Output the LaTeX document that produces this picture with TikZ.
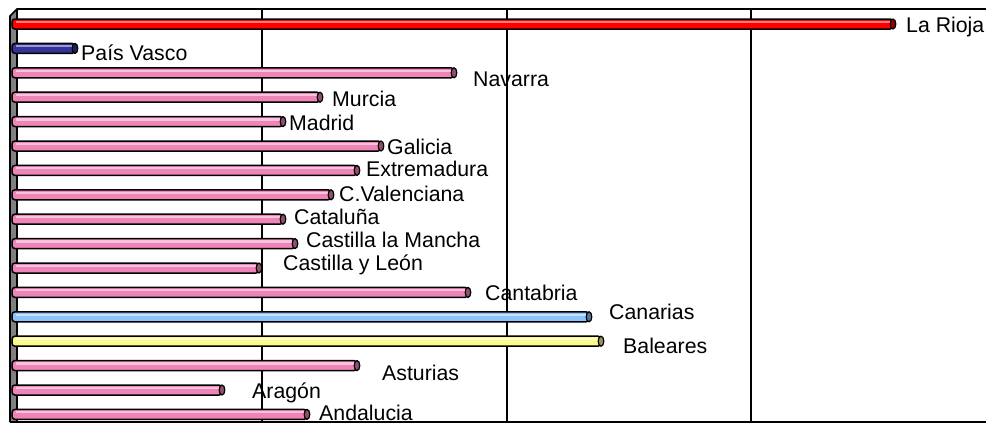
\documentclass[tikz,border=0pt]{standalone}
\usepackage{fontspec}
\setmainfont{Liberation Sans}
\definecolor{barpink}{RGB}{238,132,184}
\definecolor{barred}{RGB}{255,0,0}
\definecolor{barnavy}{RGB}{51,51,153}
\definecolor{barsky}{RGB}{140,196,250}
\definecolor{barcream}{RGB}{250,250,140}
\definecolor{wallgray}{RGB}{128,128,128}
\tikzset{
  >=latex,
}
\tikzstyle{grid}=[line width=1.6pt,black]
\tikzstyle{bar}=[line width=1.5pt,draw=black,rounded corners=3pt]
\tikzstyle{every node}=[font=\fontsize{21.3}{24}\selectfont,inner sep=0pt]

\begin{document}
\begin{tikzpicture}[x=1pt,y=-1pt]
    \useasboundingbox (0,0) rectangle (986,423);
    % wall and frame
    \fill[wallgray] (10,16) -- (17,9) -- (17,422) -- (10,422) -- cycle;
    \draw[grid] (10,422) -- (10,16) -- (17,9) -- (986,9);
    \draw[grid] (17,9) -- (17,422);
    \draw[grid] (10,422) -- (986,422);
    \foreach \x in {262,507,751} \draw[grid] (\x,9) -- (\x,422);
    % bars with labels
    \foreach \n/\len/\c/\lx/\ly/\txt [count=\i from 0] in {
        rioja/893/barred/906/32/La Rioja,
        vasco/75/barnavy/81/60/País Vasco,
        navarra/454/barpink/473/86/Navarra,
        murcia/320/barpink/332/106/Murcia,
        madrid/283/barpink/289/130/Madrid,
        galicia/381/barpink/387/154/Galicia,
        extrem/357/barpink/366/176/Extremadura,
        valencia/331/barpink/339/201/C.Valenciana,
        cataluna/283/barpink/294/224/Cataluña,
        mancha/295/barpink/306/247/Castilla la Mancha,
        leon/259/barpink/283/270/Castilla y León,
        cantabria/468/barpink/485/300/Cantabria,
        canarias/589/barsky/609/319/Canarias,
        baleares/601/barcream/623/353/Baleares,
        asturias/357/barpink/382/380/Asturias,
        aragon/222/barpink/252/398/Aragón,
        andalucia/307/barpink/319/420/Andalucia}{
      \pgfmathsetmacro\yc{24+24.4*\i}
      \draw[bar,fill=\c] (12,\yc-5) rectangle (\len,\yc+5);
      \fill[\c!50!white] (16,\yc-3.2) rectangle (\len-3,\yc-1);
      \draw[line width=1.2pt,fill=\c!60!black] (\len,\yc) ellipse (2.8 and 5);
      \node[anchor=base west] (\n) at (\lx,\ly) {\txt};
    }
\end{tikzpicture}
\end{document}
